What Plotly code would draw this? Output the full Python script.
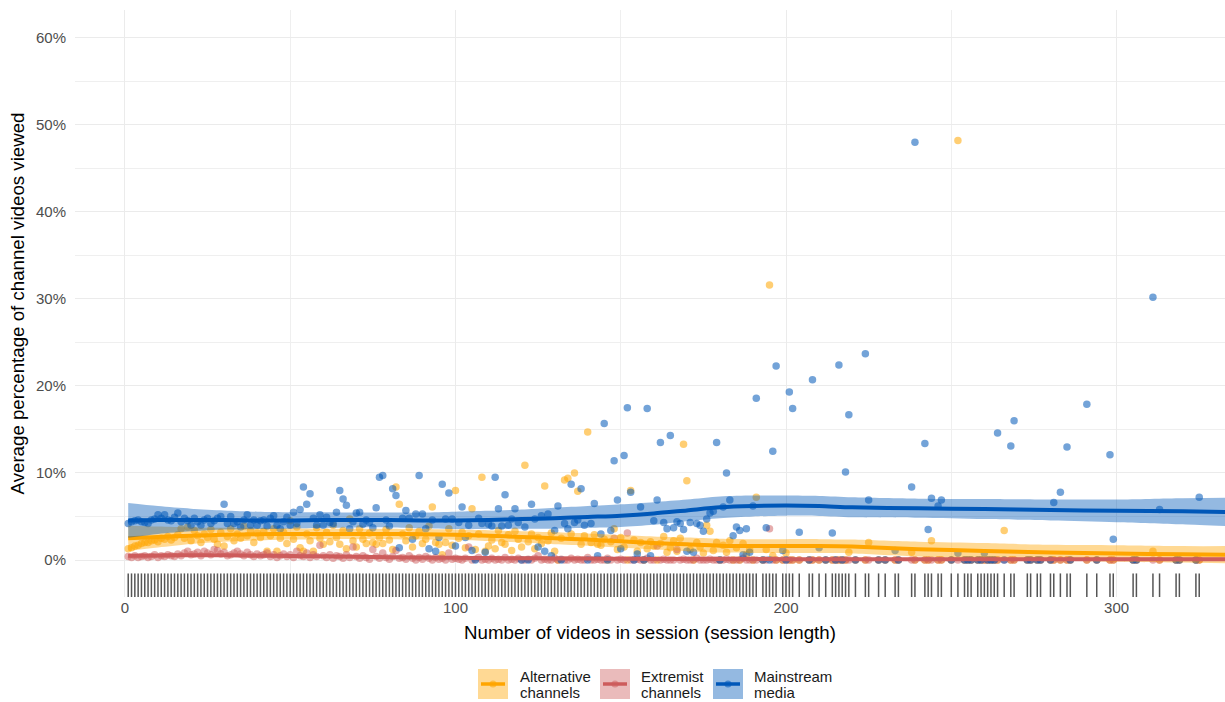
import plotly.graph_objects as go

# ---------------- data ----------------
# session lengths present in the data (1..191 all present, sparse afterwards)
x_dense = list(range(1, 192))
x_sparse = [193, 194, 195, 196, 197, 199, 200, 201, 202, 204, 207, 208, 210, 212, 214, 215, 216, 217, 218, 219,
            221, 224, 225, 228, 230, 233, 234, 238, 239, 242, 243, 244, 246, 247, 250, 252, 254, 255, 256, 258,
            259, 260, 261, 262, 263, 264, 266, 268, 269, 273, 274, 276, 277, 280, 281, 283, 285, 286, 291, 294,
            298, 299, 305, 306, 311, 313, 318, 319, 324, 325]
session_length = x_dense + x_sparse

mainstream_dense = [
    4.2, 4.4, 4.5, 4.6, 4.4, 4.3, 4.2, 4.6, 4.7, 5.2,
    4.8, 5.2, 4.6, 4.5, 4.9, 5.4, 4.4, 4.8, 4.5, 4.0,
    4.8, 4.4, 4.0, 4.6, 4.8, 4.2, 4.5, 4.8, 5.0, 6.4,
    4.2, 5.0, 4.2, 4.4, 3.8, 4.6, 5.2, 4.0, 4.6, 4.0,
    4.5, 4.6, 3.9, 4.8, 5.1, 4.0, 3.6, 4.4, 4.9, 4.0,
    5.5, 4.2, 5.8, 8.4, 6.4, 7.6, 4.8, 4.0, 5.2, 4.0,
    4.9, 4.3, 4.2, 5.5, 8.0, 7.0, 6.3, 3.6, 4.4, 5.4,
    5.5, 4.1, 4.6, 4.3, 3.7, 6.0, 9.5, 9.7, 4.6, 3.9,
    8.2, 7.4, 1.4, 4.8, 5.7, 4.8, 2.4, 5.3, 9.7, 5.3,
    3.6, 1.3, 4.6, 1.0, 2.6, 8.7, 4.7, 7.7, 4.7, 1.6,
    4.3, 6.1, 2.6, 4.0, 1.1, 0.0, 4.8, 4.2, 0.9, 4.1,
    3.9, 9.5, 5.9, 3.9, 7.5, 4.0, 4.7, 5.9, 4.3, 0.0,
    3.8, 0.0, 6.4, 4.7, 1.5, 5.1, 1.0, 5.3, 0.5, 3.4,
    6.2, 0.0, 4.2, 3.6, 8.7, 4.3, 4.6, 8.2, 4.0, 0.0,
    4.2, 6.5, 0.5, 3.0, 15.7, 0.0, 3.4, 11.4, 6.9, 1.3,
    12.0, 17.5, 7.8, 0.0, 0.7, 6.1, 0.0, 17.4, 0.5, 4.5,
    6.9, 13.5, 4.3, 3.6, 14.3, 3.7, 4.4, 4.2, 3.5, 1.0,
    4.3, 0.9, 4.2, 4.0, 3.3, 4.7, 5.4, 5.6, 13.5, 0.0,
    6.1, 10.0, 6.9, 2.8, 3.8, 3.4, 0.6, 3.6, 0.9, 6.2,
    18.6]
mainstream_sparse = [
    0, 3.7, 0, 12.5, 22.3, 1.1, 0, 19.3, 17.4, 3.2, 0, 20.7, 1.4, 0, 3.1, 0, 22.4, 0, 10.1, 16.7,
    0, 23.7, 6.9, 0, 0, 1.1, 0, 8.4, 48.0, 13.4, 3.5, 7.1, 6.2, 6.9, 0, 0.8, 0, 0, 0, 0,
    0, 0.8, 0, 0, 0, 14.6, 0, 13.1, 16.0, 0, 0, 0, 0, 0, 6.6, 7.8, 13.0, 0, 17.9, 0,
    12.1, 2.4, 0, 0, 30.2, 5.8, 0, 0, 0, 7.2]

alternative_dense = [
    1.3, 1.4, 1.6, 1.7, 1.9, 2.0, 2.0, 2.2, 2.3, 2.1,
    2.5, 2.4, 2.7, 2.3, 2.6, 2.9, 3.6, 2.5, 3.8, 2.2,
    3.4, 2.8, 2.0, 3.0, 2.6, 3.5, 2.4, 1.8, 3.2, 1.6,
    2.7, 3.6, 2.2, 3.0, 2.5, 3.9, 2.8, 3.4, 2.0, 3.1,
    2.6, 3.3, 1.0, 2.8, 3.6, 1.0, 2.5, 3.2, 1.9, 4.5,
    2.4, 3.8, 1.4, 1.0, 3.0, 2.2, 1.0, 3.7, 2.5, 1.8,
    3.2, 2.1, 4.0, 2.6, 1.8, 3.4, 1.3, 4.7, 2.2, 1.5,
    3.6, 2.4, 1.9, 3.1, 2.0, 1.8, 2.6, 1.9, 3.5, 2.3,
    1.2, 8.4, 6.4, 3.0, 2.2, 3.7, 1.5, 2.8, 3.3, 1.9,
    2.4, 3.9, 6.1, 2.0, 1.8, 0.6, 2.0, 3.6, 1.7, 8.0,
    2.5, 3.2, 1.4, 2.8, 5.9, 1.2, 3.0, 9.5, 1.0, 1.6,
    2.3, 1.3, 3.4, 2.0, 1.8, 2.9, 1.1, 3.3, 2.4, 1.5,
    10.9, 2.1, 3.0, 1.3, 2.6, 1.9, 8.5, 2.2, 3.1, 1.0,
    0.0, 2.5, 9.2, 9.4, 3.0, 10.0, 7.9, 1.8, 2.8, 14.7,
    2.0, 2.9, 1.8, 1.7, 2.4, 0.0, 2.1, 3.6, 1.2, 2.6,
    1.5, 0.0, 8.0, 2.3, 1.0, 2.0, 0.0, 1.3, 2.1, 1.6,
    0.0, 1.9, 2.7, 0.9, 1.4, 2.2, 1.0, 2.5, 13.3, 9.1,
    1.2, 0.0, 2.0, 1.5, 0.8, 4.0, 3.3, 1.1, 2.0, 0.0,
    1.7, 0.9, 2.2, 0.0, 1.4, 0.0, 1.9, 0.6, 1.2, 0.0,
    7.2]
alternative_sparse = [
    0, 1.2, 31.6, 0.5, 0, 0, 0.8, 0, 0, 0, 0, 0, 0, 0, 0, 0, 0, 0, 0, 0.9,
    0, 0, 2.0, 0, 0, 0, 0, 0.9, 0, 0, 0, 2.2, 0, 0, 0, 48.2, 0, 0, 0, 0,
    0, 0, 0, 0, 0, 0, 3.4, 0, 0, 0, 0, 0, 0, 0, 0, 0, 0, 0, 0, 0,
    0, 0, 0, 0, 1.0, 0, 0, 0, 0, 0]

extremist_dense = [
    0.4, 0.3, 0.5, 0.3, 0.4, 0.5, 0.3, 0.4, 0.6, 0.3,
    0.5, 0.4, 0.6, 0.5, 0.4, 0.7, 0.5, 0.8, 1.0, 0.6,
    0.7, 0.9, 0.5, 1.0, 0.8, 0.6, 1.2, 1.1, 0.7, 0.9,
    0.5, 0.6, 0.8, 1.0, 0.7, 0.5, 0.9, 0.6, 0.4, 0.7,
    0.5, 0.6, 0.8, 0.4, 0.6, 0.3, 0.5, 0.7, 0.4, 0.6,
    0.3, 1.0, 0.5, 0.4, 0.8, 0.3, 0.6, 0.4, 1.7, 0.5,
    0.3, 0.6, 0.2, 0.5, 0.4, 0.2, 0.6, 0.3, 1.5, 0.4,
    0.2, 0.5, 0.3, 0.1, 1.2, 0.4, 0.2, 0.8, 0.3, 0.1,
    0.4, 1.1, 0.2, 0.3, 0.1, 0.5, 0.2, 0.0, 0.3, 0.1,
    0.4, 0.2, 0.0, 0.3, 0.1, 0.2, 0.0, 0.8, 0.1, 0.2,
    0.1, 0.0, 0.2, 1.5, 0.0, 0.1, 0.3, 0.0, 0.1, 0.0,
    0.2, 0.0, 0.1, 0.0, 0.3, 0.0, 0.1, 0.0, 0.2, 0.0,
    0.0, 0.1, 0.0, 0.2, 0.5, 0.0, 0.1, 0.0, 0.0, 0.2,
    0.0, 0.1, 0.0, 0.0, 0.2, 0.0, 0.1, 0.0, 0.0, 0.3,
    0.0, 0.0, 0.1, 0.0, 0.0, 0.2, 0.0, 2.5, 0.0, 0.1,
    0.0, 3.1, 0.0, 0.0, 0.1, 0.0, 0.0, 0.2, 0.0, 0.0,
    1.6, 0.0, 0.1, 0.0, 0.0, 0.0, 1.2, 0.0, 0.1, 0.0,
    0.0, 0.0, 0.2, 0.0, 0.0, 0.0, 0.1, 0.0, 0.0, 0.0,
    0.0, 0.1, 0.0, 0.0, 0.0, 0.0, 0.2, 0.0, 0.0, 0.0,
    0.0]
extremist_sparse = [
    0, 0, 3.6, 0, 0, 0, 0, 0, 0, 0, 0, 0, 0, 0, 0, 0, 0, 0, 0, 0,
    0, 0, 0, 0, 0, 0, 0, 0, 0, 0, 0, 0, 0, 0, 0, 0, 0, 0, 0, 0,
    0, 0, 0, 0, 0, 0, 0, 0, 0, 0, 0, 0, 0, 0, 0, 0, 0, 0, 0, 0,
    0, 0, 0, 0, 0, 0, 0, 0, 0, 0]

mainstream = mainstream_dense + mainstream_sparse
alternative = alternative_dense + alternative_sparse
extremist = extremist_dense + extremist_sparse

# smoothed fits with confidence half-widths
smooth_x = [1, 10, 20, 30, 40, 50, 60, 70, 80, 90, 100, 110, 120, 130, 140, 150, 160, 170, 180, 190,
            200, 210, 220, 240, 260, 280, 300, 320, 336]
mainstream_fit = [4.55, 4.6, 4.6, 4.6, 4.55, 4.55, 4.6, 4.6, 4.6, 4.55, 4.55, 4.6, 4.7, 4.8, 4.95, 5.1,
                  5.35, 5.7, 6.05, 6.2, 6.25, 6.2, 6.05, 5.95, 5.85, 5.75, 5.65, 5.6, 5.5]
mainstream_se = [2.0, 1.6, 1.3, 1.1, 1.0, 0.95, 0.9, 0.85, 0.85, 0.9, 1.0, 1.05, 1.1, 1.2, 1.25, 1.3,
                 1.3, 1.25, 1.25, 1.2, 1.15, 1.15, 1.15, 1.1, 1.15, 1.2, 1.3, 1.5, 1.65]
alternative_fit = [2.5, 2.65, 2.8, 2.9, 2.95, 3.0, 3.0, 3.0, 3.0, 2.95, 2.9, 2.8, 2.65, 2.5, 2.35, 2.15,
                   1.95, 1.8, 1.65, 1.6, 1.6, 1.6, 1.55, 1.25, 1.05, 0.85, 0.75, 0.65, 0.6]
alternative_se = [1.45, 1.2, 0.95, 0.8, 0.7, 0.65, 0.6, 0.6, 0.6, 0.6, 0.6, 0.62, 0.65, 0.68, 0.7, 0.72,
                  0.75, 0.78, 0.8, 0.8, 0.8, 0.8, 0.8, 0.85, 0.9, 0.9, 0.95, 0.95, 1.0]
extremist_fit = [0.5, 0.52, 0.55, 0.55, 0.5, 0.47, 0.42, 0.37, 0.32, 0.28, 0.25, 0.22, 0.2, 0.18, 0.16,
                 0.14, 0.13, 0.12, 0.11, 0.11, 0.1, 0.1, 0.1, 0.09, 0.09, 0.08, 0.08, 0.08, 0.08]
extremist_se = [0.2, 0.17, 0.15, 0.14, 0.13, 0.12, 0.12, 0.12, 0.12, 0.12, 0.12, 0.12, 0.12, 0.12, 0.12,
                0.12, 0.12, 0.12, 0.12, 0.13, 0.13, 0.13, 0.14, 0.15, 0.16, 0.17, 0.18, 0.19, 0.2]

y_ticks = [0, 10, 20, 30, 40, 50, 60]
y_ticklabels = ["0%", "10%", "20%", "30%", "40%", "50%", "60%"]
x_ticks = [0, 100, 200, 300]

groups = [
    # legend text lines, values, fit, se, line colour, point rgba, band rgba
    (["Alternative", "channels"], alternative, alternative_fit, alternative_se,
     "#FFA500", "rgba(255,165,0,0.55)", "rgba(255,165,0,0.42)"),
    (["Extremist", "channels"], extremist, extremist_fit, extremist_se,
     "#CD5C5C", "rgba(205,92,92,0.5)", "rgba(205,92,92,0.42)"),
    (["Mainstream", "media"], mainstream, mainstream_fit, mainstream_se,
     "#0057B8", "rgba(0,87,184,0.55)", "rgba(0,87,184,0.42)"),
]

fig = go.Figure()

# points
for names, vals, fit, se, lc, pc, bc in groups:
    fig.add_trace(go.Scatter(x=session_length, y=vals, mode="markers",
                             marker=dict(color=pc, size=7.5, line=dict(width=0)),
                             showlegend=False, hoverinfo="skip"))

# smooths with ribbons
for names, vals, fit, se, lc, pc, bc in groups:
    lo = [f - s for f, s in zip(fit, se)]
    hi = [f + s for f, s in zip(fit, se)]
    fig.add_trace(go.Scatter(x=smooth_x, y=lo, mode="lines", line=dict(width=0, shape="spline", smoothing=0.8),
                             showlegend=False, hoverinfo="skip"))
    fig.add_trace(go.Scatter(x=smooth_x, y=hi, mode="lines", line=dict(width=0, shape="spline", smoothing=0.8),
                             fill="tonexty", fillcolor=bc, showlegend=False, hoverinfo="skip"))
    fig.add_trace(go.Scatter(x=smooth_x, y=fit, mode="lines",
                             line=dict(color=lc, width=4, shape="spline", smoothing=0.8),
                             showlegend=False, hoverinfo="skip"))

# rug
fig.add_trace(go.Scatter(x=session_length, y=[-3.15] * len(session_length), mode="markers",
                         marker=dict(symbol="line-ns-open", size=20, color="#555555",
                                     line=dict(color="#555555", width=1.5)),
                         showlegend=False, hoverinfo="skip"))

# ---------------- layout ----------------
L, R, T, B = 75, 1225, 10, 597
W, H = 1225, 702


def pxx(X):
    return (X - L) / (R - L)


def pxy(Y):
    return (B - Y) / (B - T)


shapes = []
annotations = []
key_left = [478, 600, 713]
text_left = [518, 639, 752]
for (names, vals, fit, se, lc, pc, bc), kx, tx in zip(groups, key_left, text_left):
    shapes.append(dict(type="rect", xref="paper", yref="paper", x0=pxx(kx), x1=pxx(kx + 30),
                       y0=pxy(699), y1=pxy(669), fillcolor=bc, line=dict(width=0), layer="above"))
    shapes.append(dict(type="line", xref="paper", yref="paper", x0=pxx(kx + 3), x1=pxx(kx + 27),
                       y0=pxy(684), y1=pxy(684), line=dict(color=lc, width=3.5), layer="above"))
    shapes.append(dict(type="circle", xref="paper", yref="paper", x0=pxx(kx + 11.5), x1=pxx(kx + 18.5),
                       y0=pxy(687.5), y1=pxy(680.5), fillcolor=pc, line=dict(width=0), layer="above"))
    for line_text, ty in zip(names, [676, 692.5]):
        annotations.append(dict(xref="paper", yref="paper", x=pxx(tx), y=pxy(ty), text=line_text,
                                showarrow=False, xanchor="left", yanchor="middle",
                                font=dict(size=15, color="#1a1a1a")))

fig.update_layout(
    width=W, height=H,
    margin=dict(l=L, r=W - R, t=T, b=H - B),
    plot_bgcolor="white", paper_bgcolor="white",
    font=dict(family="Liberation Sans, Arial, sans-serif", color="#1a1a1a"),
    shapes=shapes, annotations=annotations,
    showlegend=False,
    xaxis=dict(range=[-15.1, 332.8], tickvals=x_ticks, ticks="", showline=False,
               zeroline=False, showgrid=True, gridcolor="#EBEBEB", gridwidth=1.1,
               minor=dict(tickvals=[50, 150, 250], showgrid=True, gridcolor="#EFEFEF", gridwidth=0.7),
               tickfont=dict(size=15, color="#4D4D4D"),
               title=dict(text="Number of videos in session (session length)",
                          font=dict(size=18.7, color="#000000"), standoff=10)),
    yaxis=dict(range=[-4.25, 63.2], tickvals=y_ticks, ticktext=y_ticklabels, ticks="",
               showline=False, zeroline=False, showgrid=True, gridcolor="#EBEBEB", gridwidth=1.1,
               minor=dict(tickvals=[5, 15, 25, 35, 45, 55], showgrid=True, gridcolor="#EFEFEF", gridwidth=0.7),
               tickfont=dict(size=15, color="#4D4D4D"), ticklabelstandoff=8,
               title=dict(text="Average percentage of channel videos viewed",
                          font=dict(size=18.7, color="#000000"), standoff=6)),
)

fig.write_html("out.html", config={"displayModeBar": False},
               post_script="document.body.style.margin='0';")
